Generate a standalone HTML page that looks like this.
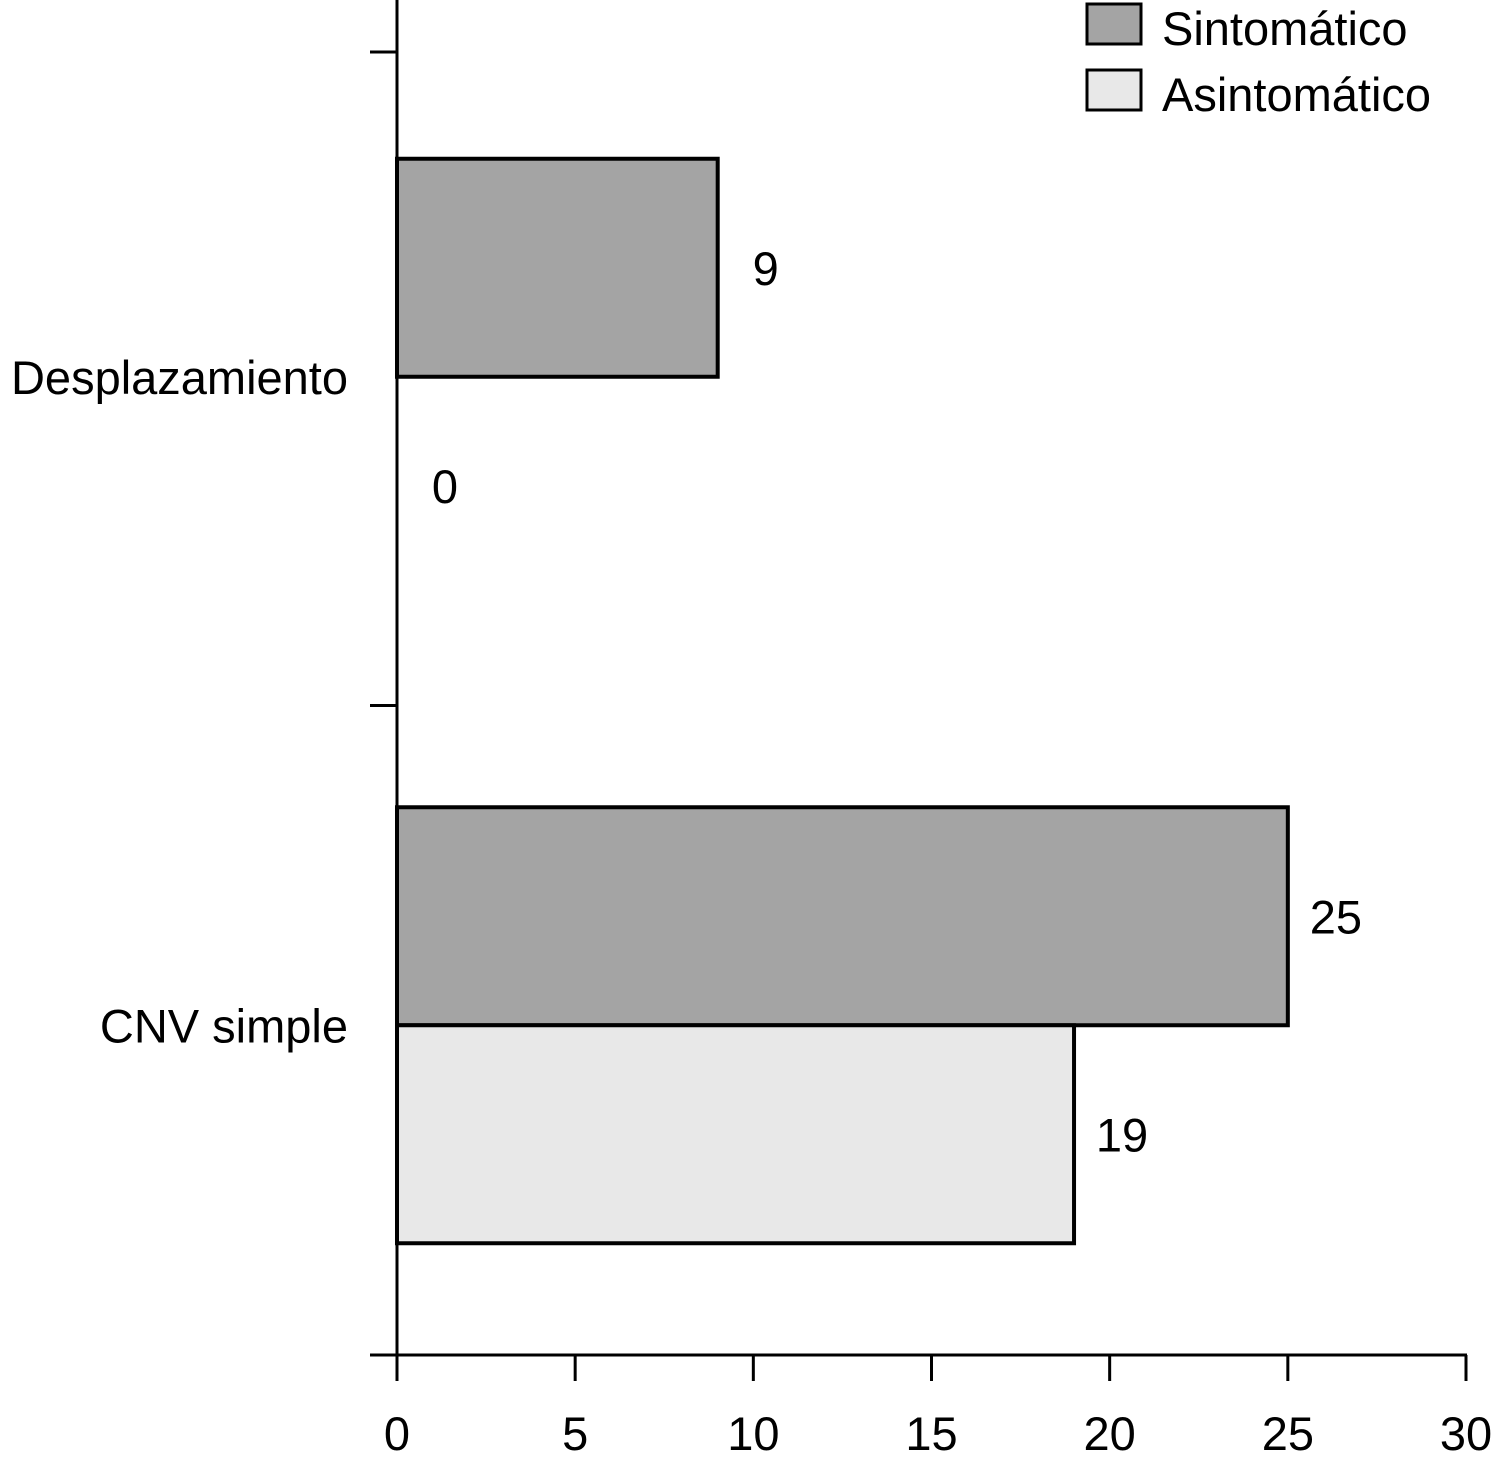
<!DOCTYPE html>
<html><head><meta charset="utf-8"><style>
body{margin:0;background:#fff}
svg text{font-family:"Liberation Sans",sans-serif;font-size:47px;fill:#000}
</style></head><body>
<svg width="1495" height="1470" xmlns="http://www.w3.org/2000/svg">
<g id="g"></g>
</svg>
<script>
const categories=["Desplazamiento","CNV simple"];
const sintomatico=[9,25];
const asintomatico=[0,19];
const xTicks=[0,5,10,15,20,25,30];
const seriesNames=["Sintomático","Asintomático"];
const colors=["#a4a4a4","#e8e8e8"];
const NS="http://www.w3.org/2000/svg";
const g=document.getElementById('g');
const x0=397,x1=1466,yTop=52,yBot=1355;
const xs=v=>x0+(v-0)/(30-0)*(x1-x0);
const band=(yBot-yTop)/categories.length;
function el(t,a,txt){const e=document.createElementNS(NS,t);for(const k in a)e.setAttribute(k,a[k]);if(txt!==undefined)e.textContent=txt;g.appendChild(e);return e;}
const bh=218;
categories.forEach((c,i)=>{
  const cy=yTop+band*i+band/2-(i?4:1);
  const t=el('text',{x:348,y:cy+17,'text-anchor':'end'},c);
  
  
  [sintomatico[i],asintomatico[i]].forEach((v,j)=>{
    const y=cy-bh+j*bh;
    if(v>0){
      const r=el('rect',{x:x0,y:y,width:xs(v)-x0,height:bh,fill:colors[j],stroke:'#000','stroke-width':4});
      
      
    }
    const l=el('text',{x:xs(v)+48,y:y+bh/2+17,'text-anchor':'middle'},String(v));
    
    
  });
});
const ya=el('line',{x1:x0,y1:0,x2:x0,y2:yBot+2,stroke:'#000','stroke-width':3});


for(let i=0;i<=categories.length;i++){const y=yTop+band*i+(i===1?2:0);const t=el('line',{x1:370,y1:y,x2:x0,y2:y,stroke:'#000','stroke-width':3});}
const xa=el('line',{x1:370,y1:yBot,x2:x1+1,y2:yBot,stroke:'#000','stroke-width':3});


xTicks.forEach(v=>{const t=el('line',{x1:xs(v),y1:yBot,x2:xs(v),y2:1381,stroke:'#000','stroke-width':3});
const l=el('text',{x:xs(v),y:1450,'text-anchor':'middle'},String(v));});
seriesNames.forEach((n,j)=>{const y=4+j*66;
const r=el('rect',{x:1087,y:y,width:54,height:40,fill:colors[j],stroke:'#000','stroke-width':3});
const t=el('text',{x:1162,y:y+41},n);});
</script>
</body></html>
